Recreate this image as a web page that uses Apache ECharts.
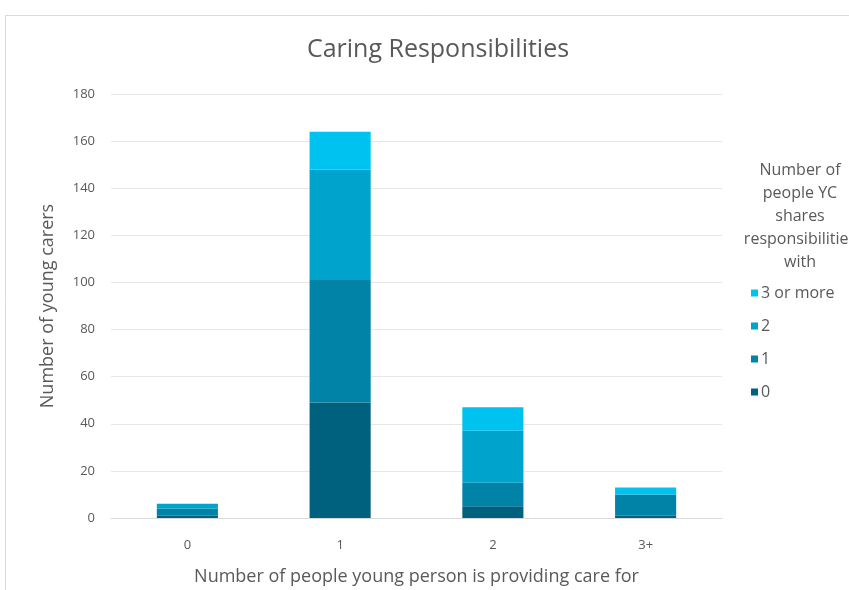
<!DOCTYPE html>
<html>
<head>
<meta charset="utf-8">
<script src="https://cdn.jsdelivr.net/npm/echarts@6/dist/echarts.min.js"></script>
<style>html,body{margin:0;padding:0;background:#fff;}#c{width:849px;height:590px;}</style>
</head>
<body>
<div id="c"></div>
<script>
const categories = ['0', '1', '2', '3+'];
const seriesNames = ['0', '1', '2', '3 or more'];
const shares0 = [1, 49, 5, 1];
const shares1 = [3, 52, 10, 9];
const shares2 = [2, 47, 22, 0];
const shares3plus = [0, 16, 10, 3];
const yTicks = { min: 0, max: 180, interval: 20 };
const colors = ['#00617f', '#0083a7', '#00a3cc', '#00c2f0'];

const values = [shares0, shares1, shares2, shares3plus];
const chart = echarts.init(document.getElementById('c'));
const fontFam = '"Open Sans", Lato, sans-serif';
chart.setOption({
  animation: false,
  backgroundColor: '#fff',
  graphic: [{
    type: 'polyline',
    shape: { points: [[5.5, 590], [5.5, 15.5], [849, 15.5]] },
    style: { stroke: '#d9d9d9', fill: null, lineWidth: 1 }
  }],
  title: [{
    text: 'Caring Responsibilities',
    left: 433, top: 32, textAlign: 'center',
    textStyle: { fontFamily: fontFam, fontSize: 25, fontWeight: 'normal', color: '#595959' }
  }, {
    text: 'Number of\npeople YC\nshares\nresponsibilities\nwith',
    left: 795, top: 154, textAlign: 'center',
    textStyle: { fontFamily: fontFam, fontSize: 16, fontWeight: 'normal', color: '#595959', lineHeight: 23 }
  }],
  legend: {
    orient: 'vertical', left: 746, top: 280,
    data: ['3 or more', '2', '1', '0'],
    icon: 'rect', itemWidth: 7, itemHeight: 7, itemGap: 17,
    textStyle: { fontFamily: fontFam, fontSize: 16, color: '#595959', padding: [0, 0, 0, -2] }
  },
  grid: { left: 111, right: 127, top: 94, bottom: 72, outerBoundsMode: 'none' },
  xAxis: {
    type: 'category', data: categories,
    name: 'Number of people young person is providing care for',
    nameLocation: 'middle', nameGap: 50,
    nameTextStyle: { fontFamily: fontFam, fontSize: 18, color: '#595959' },
    axisLine: { lineStyle: { color: '#d9d9d9' } },
    axisTick: { show: false },
    axisLabel: { fontFamily: fontFam, fontSize: 13, color: '#595959', margin: 21 }
  },
  yAxis: {
    type: 'value', min: yTicks.min, max: yTicks.max, interval: yTicks.interval,
    name: 'Number of young carers',
    nameLocation: 'middle', nameGap: 54,
    nameTextStyle: { fontFamily: fontFam, fontSize: 18, color: '#595959' },
    axisLine: { show: false }, axisTick: { show: false },
    axisLabel: { fontFamily: fontFam, fontSize: 13, color: '#595959', margin: 16 },
    splitLine: { lineStyle: { color: '#e6e6e6' } }
  },
  series: seriesNames.map((n, i) => ({
    name: n, type: 'bar', stack: 'total', data: values[i],
    barWidth: '40%',
    itemStyle: { color: colors[i] }
  }))
});
</script>
</body>
</html>
